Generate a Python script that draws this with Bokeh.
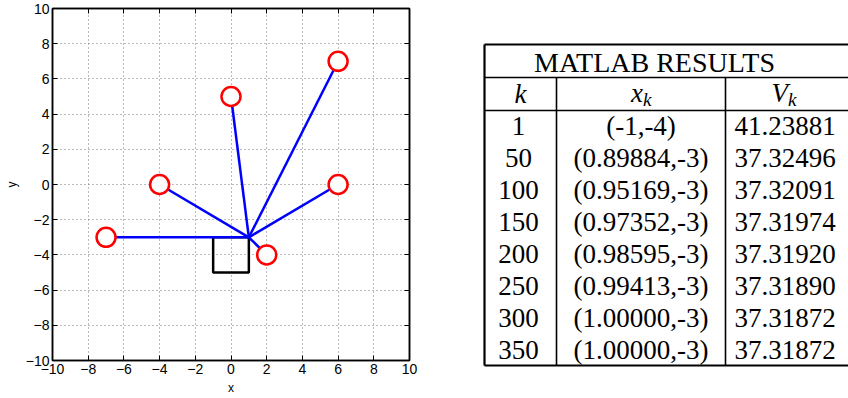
from bokeh.plotting import figure
from bokeh.models import Range1d, LinearAxis, FixedTicker, CustomJSTickFormatter
from bokeh.layouts import row
from bokeh.embed import file_html
from bokeh.resources import INLINE
from bokeh.core.properties import value

# ---------------- data ----------------
tick_vals = [-10, -8, -6, -4, -2, 0, 2, 4, 6, 8, 10]
tick_labels = ["\u221210", "\u22128", "\u22126", "\u22124", "\u22122", "0", "2", "4", "6", "8", "10"]

hub_x = [1]
hub_y = [-3]
target_x = [-7, -4, 0, 6, 6, 2]
target_y = [-3, 0, 5, 7, 0, -4]
square_x = [-1, 1, 1, -1, -1]
square_y = [-3, -3, -5, -5, -3]

table_title = "MATLAB RESULTS"
k_vals = ["1", "50", "100", "150", "200", "250", "300", "350"]
xk_vals = ["(-1,-4)", "(0.89884,-3)", "(0.95169,-3)", "(0.97352,-3)",
           "(0.98595,-3)", "(0.99413,-3)", "(1.00000,-3)", "(1.00000,-3)"]
vk_vals = ["41.23881", "37.32496", "37.32091", "37.31974",
           "37.31920", "37.31890", "37.31872", "37.31872"]

# ---------------- left plot ----------------
SANS = "Liberation Sans"
FIG_H = 397
P_W = 420
p = figure(width=P_W, height=FIG_H,
           x_range=Range1d(-10, 10), y_range=Range1d(-10, 10),
           output_backend="svg", toolbar_location=None,
           min_border_left=52, min_border_top=8, min_border_right=11, min_border_bottom=37,
           x_axis_label="x", y_axis_label="y", frame_align=False)
p.background_fill_color = "white"
p.outline_line_color = "black"
p.outline_line_width = 1.5

overrides = dict(zip(tick_vals, tick_labels))
for ax in (p.xaxis[0], p.yaxis[0]):
    ax.ticker = FixedTicker(ticks=tick_vals)
    ax.major_label_overrides = overrides
    ax.major_tick_in = 5
    ax.major_tick_out = 0
    ax.minor_tick_line_color = None
    ax.axis_line_color = "black"
    ax.axis_line_width = 1.5
    ax.major_tick_line_color = "black"
    ax.major_label_text_font = SANS
    ax.major_label_text_font_size = "14px"
    ax.major_label_text_color = "black"
    ax.major_label_standoff = 3
    ax.axis_label_text_font = SANS
    ax.axis_label_text_font_size = "12px"
    ax.axis_label_text_font_style = "normal"
    ax.axis_label_text_color = "black"
    ax.axis_label_standoff = 4

blank = CustomJSTickFormatter(code="return ''")
for loc in ("above", "right"):
    ax = LinearAxis(ticker=FixedTicker(ticks=tick_vals), formatter=blank,
                    major_tick_in=5, major_tick_out=0, minor_tick_line_color=None,
                    axis_line_color="black", axis_line_width=1.5,
                    major_label_standoff=0)
    p.add_layout(ax, loc)

for g in (p.xgrid[0], p.ygrid[0]):
    g.ticker = FixedTicker(ticks=tick_vals)
    g.grid_line_color = "#777777"
    g.grid_line_dash = "1 3"
    g.grid_line_width = 1

p.line(square_x, square_y, line_color="black", line_width=2.5)
p.segment(x0=hub_x * len(target_x), y0=hub_y * len(target_y),
          x1=target_x, y1=target_y, line_color="blue", line_width=2.5)
p.scatter(target_x, target_y, marker="circle", size=19,
          fill_color="white", line_color="red", line_width=2.5)

# ---------------- table ----------------
SERIF = "Liberation Serif"
t = figure(width=848 - P_W, height=FIG_H,
           x_range=Range1d(P_W, 848), y_range=Range1d(FIG_H, 0),
           output_backend="svg", toolbar_location=None,
           min_border=0, x_axis_type=None, y_axis_type=None, frame_align=False)
t.outline_line_color = None
t.grid.visible = False

left, right_, top, bottom = 484, 848, 44, 365
title_line, header_line = 77, 110
col1, col2 = 556, 725

t.segment(x0=[left, left, left], y0=[top, bottom, top],
          x1=[right_, right_, left], y1=[top, bottom, bottom],
          line_color="black", line_width=2.2)
t.segment(x0=[left, left, col1, col2], y0=[title_line, header_line, title_line, title_line],
          x1=[right_, right_, col1, col2], y1=[title_line, header_line, bottom, bottom],
          line_color="black", line_width=1.6)

c1 = (left + col1) / 2
c2 = (col1 + col2) / 2
c3 = (col2 + right_) / 2

t.text(x=[(left + right_) / 2 - 12], y=[(top + title_line) / 2 + 1], text=[table_title],
       text_font=value(SERIF), text_font_size="28px", text_align="center",
       text_baseline="middle", text_color="black")

hy = (title_line + header_line) / 2
t.text(x=[c1], y=[hy], text=["k"], text_font=value(SERIF), text_font_size="27px",
       text_font_style="italic", text_align="center", text_baseline="middle")
t.text(x=[c2 + 2, c3 + 1], y=[hy - 1, hy - 1], text=["x", "V"], text_font=value(SERIF),
       text_font_size="27px", text_font_style="italic", text_align="right",
       text_baseline="middle")
t.text(x=[c2 + 2, c3 + 1], y=[hy + 5, hy + 5], text=["k", "k"], text_font=value(SERIF),
       text_font_size="19px", text_font_style="italic", text_align="left",
       text_baseline="middle")

row_h = (bottom - header_line) / len(k_vals)
ys = [header_line + (i + 0.5) * row_h for i in range(len(k_vals))]
for cx, vals in ((c1 - 2, k_vals), (c2, xk_vals), (c3 - 2, vk_vals)):
    t.text(x=[cx] * len(vals), y=ys, text=vals, text_font=value(SERIF),
           text_font_size="27px", text_align="center", text_baseline="middle",
           text_color="black")

layout = row(p, t)
open("out.html", "w").write(file_html(layout, INLINE))
